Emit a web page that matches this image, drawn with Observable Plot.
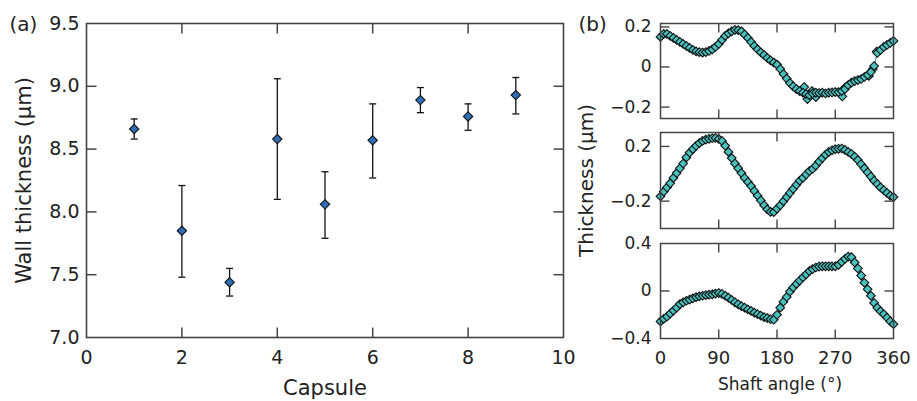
<!DOCTYPE html>
<html>
<head>
<meta charset="utf-8">
<script src="https://cdn.jsdelivr.net/npm/d3@7"></script>
<script src="https://cdn.jsdelivr.net/npm/@observablehq/plot@0.6"></script>
<style>
  html, body { margin: 0; padding: 0; background: #fff; }
  #wrap { position: relative; width: 917px; height: 401px; overflow: hidden; background: #fff; }
  svg { overflow: visible; }
</style>
</head>
<body>
<div id="wrap"></div>
<script>
// ---------- Panel (a) data ----------
const capsules = [1, 2, 3, 4, 5, 6, 7, 8, 9];
const wallThickness = [8.66, 7.85, 7.44, 8.58, 8.06, 8.57, 8.89, 8.76, 8.93];
const errLow  = [8.58, 7.48, 7.33, 8.10, 7.79, 8.27, 8.79, 8.65, 8.78];
const errHigh = [8.74, 8.21, 7.55, 9.06, 8.32, 8.86, 8.99, 8.86, 9.07];
const xTicksA = [0, 2, 4, 6, 8, 10];
const xTickLabelsA = ["0", "2", "4", "6", "8", "10"];
const yTicksA = [7.0, 7.5, 8.0, 8.5, 9.0, 9.5];
const yTickLabelsA = ["7.0", "7.5", "8.0", "8.5", "9.0", "9.5"];

// ---------- Panel (b) data ----------
const angles = [0,5,10,15,20,25,30,35,40,45,50,55,60,65,70,75,80,85,90,95,100,105,110,115,120,125,130,135,140,145,150,155,160,165,170,175,180,185,190,195,200,205,210,215,220,225,230,235,240,245,250,255,260,265,270,275,280,285,290,295,300,305,310,315,320,325,330,335,340,345,350,355,360];
const thickness1 = [0.15,0.165,0.165,0.155,0.145,0.135,0.125,0.115,0.105,0.095,0.085,0.078,0.074,0.072,0.074,0.08,0.088,0.1,0.115,0.135,0.155,0.168,0.178,0.185,0.184,0.178,0.162,0.145,0.125,0.105,0.088,0.073,0.06,0.045,0.033,0.022,0.012,-0.01,-0.035,-0.058,-0.08,-0.097,-0.11,-0.12,-0.128,-0.135,-0.14,-0.132,-0.128,-0.13,-0.128,-0.132,-0.128,-0.127,-0.125,-0.125,-0.12,-0.11,-0.09,-0.078,-0.07,-0.065,-0.06,-0.05,-0.04,-0.025,0.005,0.07,0.085,0.1,0.11,0.12,0.13];
const extraAngles1 = [222, 227, 234, 240, 281, 286, 322, 328, 334];
const extraValues1 = [-0.10, -0.16, -0.12, -0.15, -0.147, -0.10, -0.045, -0.01, 0.077];
const thickness2 = [-0.165,-0.13,-0.1,-0.07,-0.03,0.005,0.04,0.075,0.12,0.155,0.18,0.205,0.225,0.24,0.25,0.256,0.26,0.262,0.255,0.24,0.205,0.16,0.115,0.075,0.04,0.005,-0.03,-0.06,-0.09,-0.125,-0.16,-0.195,-0.23,-0.26,-0.278,-0.28,-0.255,-0.23,-0.2,-0.17,-0.14,-0.11,-0.08,-0.05,-0.03,-0.005,0.02,0.035,0.06,0.09,0.115,0.14,0.16,0.172,0.18,0.183,0.185,0.175,0.16,0.145,0.125,0.1,0.07,0.04,0.01,-0.02,-0.05,-0.075,-0.1,-0.12,-0.14,-0.16,-0.17];
const thickness3 = [-0.256,-0.235,-0.215,-0.19,-0.165,-0.14,-0.11,-0.095,-0.082,-0.072,-0.062,-0.052,-0.045,-0.04,-0.035,-0.031,-0.028,-0.022,-0.017,-0.025,-0.04,-0.056,-0.075,-0.095,-0.112,-0.128,-0.14,-0.155,-0.168,-0.182,-0.195,-0.208,-0.22,-0.228,-0.238,-0.242,-0.2,-0.14,-0.09,-0.05,-0.005,0.03,0.06,0.088,0.115,0.14,0.168,0.185,0.198,0.206,0.208,0.208,0.208,0.207,0.208,0.22,0.245,0.27,0.29,0.285,0.24,0.19,0.13,0.07,0.015,-0.04,-0.1,-0.14,-0.17,-0.195,-0.225,-0.255,-0.28];
const xTicksB = [0, 90, 180, 270, 360];
const xTickLabelsB = ["0", "90", "180", "270", "360"];
const yTicksB1 = [-0.2, 0, 0.2];
const yTickLabelsB1 = ["\u22120.2", "0", "0.2"];
const yTicksB2 = [-0.2, 0.2];
const yTickLabelsB2 = ["\u22120.2", "0.2"];
const yTicksB3 = [-0.4, 0, 0.4];
const yTickLabelsB3 = ["\u22120.4", "0", "0.4"];

// ---------- styling ----------
const FONT = "DejaVu Sans, sans-serif";
const TXT = "#222";
const FRAME = "#444";
const TEAL = "#48c2bf";

const lineSym = (dx1, dy1, dx2, dy2) => ({draw(ctx) { ctx.moveTo(dx1, dy1); ctx.lineTo(dx2, dy2); }});
function inwardTicks(xDom, yDom, xTicks, yTicks, len, sw) {
  const inner = (arr, dom) => arr.filter(v => v > dom[0] && v < dom[1]);
  const xs = inner(xTicks, xDom), ys = inner(yTicks, yDom);
  const o = {fill: "none", stroke: FRAME, strokeWidth: sw};
  return [
    Plot.dot(ys, {x: () => xDom[0], y: d => d, symbol: lineSym(0, 0, len, 0), ...o}),
    Plot.dot(ys, {x: () => xDom[1], y: d => d, symbol: lineSym(0, 0, -len, 0), ...o}),
    Plot.dot(xs, {x: d => d, y: () => yDom[0], symbol: lineSym(0, 0, 0, -len), ...o}),
    Plot.dot(xs, {x: d => d, y: () => yDom[1], symbol: lineSym(0, 0, 0, len), ...o})
  ];
}
const fmt = (ticks, labels) => d => labels[ticks.indexOf(d)];

const wrap = document.getElementById("wrap");
function place(node, left, top) {
  node.style.position = "absolute";
  node.style.left = left + "px";
  node.style.top = top + "px";
  wrap.appendChild(node);
}

// ---------- Panel (a) ----------
const tableA = capsules.map((c, i) => ({c, t: wallThickness[i], lo: errLow[i], hi: errHigh[i]}));
const xDomA = [0, 10], yDomA = [7, 9.5];
const plotA = Plot.plot({
  width: 570, height: 401,
  marginLeft: 86, marginTop: 23, marginRight: 7, marginBottom: 64,
  x: {domain: xDomA}, y: {domain: yDomA},
  style: {fontFamily: FONT, fontSize: "19px", color: TXT, background: "transparent", overflow: "visible"},
  marks: [
    Plot.ruleX(tableA, {x: "c", y1: "lo", y2: "hi", stroke: "#111", strokeWidth: 1.3}),
    Plot.dot(tableA, {x: "c", y: "lo", symbol: lineSym(-3.5, 0, 3.5, 0), fill: "none", stroke: "#111", strokeWidth: 1.3}),
    Plot.dot(tableA, {x: "c", y: "hi", symbol: lineSym(-3.5, 0, 3.5, 0), fill: "none", stroke: "#111", strokeWidth: 1.3}),
    Plot.dot(tableA, {x: "c", y: "t", symbol: "diamond2", r: 4.2, fill: "#2f6db7", stroke: "#111", strokeWidth: 1.1}),
    ...inwardTicks(xDomA, yDomA, xTicksA, yTicksA, 10, 1.5),
    Plot.frame({stroke: FRAME, strokeWidth: 1.6}),
    Plot.axisX({ticks: xTicksA, tickSize: 0, tickPadding: 13, tickFormat: fmt(xTicksA, xTickLabelsA), label: null, fill: TXT}),
    Plot.axisY({ticks: yTicksA, tickSize: 0, tickPadding: 7, tickFormat: fmt(yTicksA, yTickLabelsA), label: null, fill: TXT}),
    Plot.text(["Capsule"], {frameAnchor: "bottom", dy: 51, lineAnchor: "middle", fontSize: 21, fill: TXT}),
    Plot.text(["Wall thickness (\u03bcm)"], {frameAnchor: "left", dx: -62, rotate: -90, textAnchor: "middle", lineAnchor: "middle", fontSize: 21, fill: TXT}),
    Plot.text(["(a)"], {frameAnchor: "top-left", dx: -77, dy: 1, textAnchor: "start", lineAnchor: "middle", fontSize: 20, fill: TXT})
  ]
});
place(plotA, 0, 0);

// ---------- Panel (b) ----------
const xDomB = [0, 360];
function subPlot({values, extraX, extraY, yDom, yTicks, yLabels, top, height, mTop, mBottom, extraMarks, showX}) {
  const rows = angles.map((a, i) => ({a, v: values[i]}));
  const extra = extraX ? extraX.map((a, i) => ({a, v: extraY[i]})) : [];
  const p = Plot.plot({
    width: 347, height,
    marginLeft: 90, marginRight: 24, marginTop: mTop, marginBottom: mBottom,
    x: {domain: xDomB}, y: {domain: yDom},
    style: {fontFamily: FONT, fontSize: "17px", color: TXT, background: "transparent", overflow: "visible"},
    marks: [
      Plot.line(rows, {x: "a", y: "v", stroke: "#2f7fd8", strokeWidth: 1}),
      Plot.dot(extra, {x: "a", y: "v", symbol: "diamond2", r: 3.9, fill: TEAL, stroke: "#111", strokeWidth: 1.1}),
      Plot.dot(rows, {x: "a", y: "v", symbol: "diamond2", r: 3.9, fill: TEAL, stroke: "#111", strokeWidth: 1.1}),
      ...inwardTicks(xDomB, yDom, xTicksB, yTicks, 9, 1.4),
      Plot.frame({stroke: FRAME, strokeWidth: 1.5}),
      Plot.axisY({ticks: yTicks, tickSize: 0, tickPadding: 9, tickFormat: fmt(yTicks, yLabels), label: null, fill: TXT}),
      showX ? Plot.axisX({ticks: xTicksB, tickSize: 0, tickPadding: 13, tickFormat: fmt(xTicksB, xTickLabelsB), label: null, fill: TXT, fontSize: 18}) : Plot.axisX({ticks: [], label: null}),
      ...(extraMarks || [])
    ]
  });
  place(p, 570, top);
}

subPlot({
  values: thickness1, extraX: extraAngles1, extraY: extraValues1,
  yDom: [-0.257, 0.217], yTicks: yTicksB1, yLabels: yTickLabelsB1,
  top: 0, height: 120, mTop: 23, mBottom: 2,
  extraMarks: [Plot.text(["(b)"], {frameAnchor: "top-left", dx: -82, dy: 1, textAnchor: "start", lineAnchor: "middle", fontSize: 20, fill: TXT})]
});
subPlot({
  values: thickness2,
  yDom: [-0.4, 0.302], yTicks: yTicksB2, yLabels: yTickLabelsB2,
  top: 130, height: 100, mTop: 2, mBottom: 2,
  extraMarks: [Plot.text(["Thickness (\u03bcm)"], {frameAnchor: "left", dx: -74, rotate: -90, textAnchor: "middle", lineAnchor: "middle", fontSize: 20, fill: TXT})]
});
subPlot({
  values: thickness3,
  yDom: [-0.4, 0.4], yTicks: yTicksB3, yLabels: yTickLabelsB3,
  top: 241, height: 160, mTop: 2, mBottom: 63, showX: true,
  extraMarks: [Plot.text(["Shaft angle (\u00b0)"], {frameAnchor: "bottom", dx: 3, dy: 46, lineAnchor: "middle", fontSize: 17, fill: TXT})]
});
</script>
</body>
</html>
